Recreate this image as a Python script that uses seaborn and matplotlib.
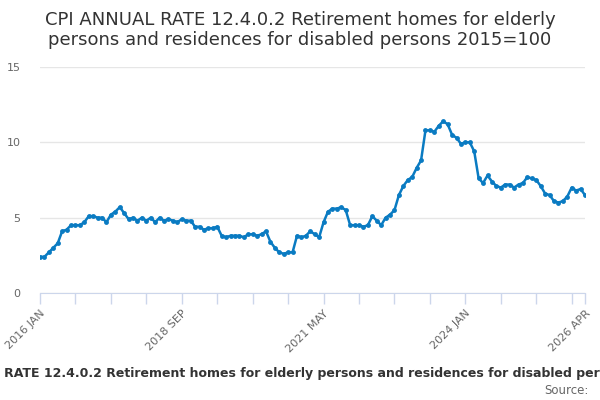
import numpy as np
import pandas as pd
import matplotlib
matplotlib.use("Agg")
import matplotlib.pyplot as plt
import seaborn as sns

# Monthly annual rate, 2016 JAN .. 2026 APR
rate_2016 = [2.4, 2.4, 2.7, 3.0, 3.3, 4.1, 4.2, 4.5, 4.5, 4.5, 4.7, 5.1]
rate_2017 = [5.1, 5.0, 5.0, 4.7, 5.2, 5.4, 5.7, 5.3, 4.9, 5.0, 4.8, 5.0]
rate_2018 = [4.8, 5.0, 4.7, 5.0, 4.8, 4.9, 4.8, 4.7, 4.9, 4.8, 4.8, 4.4]
rate_2019 = [4.4, 4.2, 4.3, 4.3, 4.4, 3.8, 3.7, 3.8, 3.8, 3.8, 3.7, 3.9]
rate_2020 = [3.9, 3.8, 3.9, 4.1, 3.4, 3.0, 2.7, 2.6, 2.7, 2.7, 3.8, 3.7]
rate_2021 = [3.8, 4.1, 3.9, 3.7, 4.7, 5.4, 5.6, 5.6, 5.7, 5.5, 4.5, 4.5]
rate_2022 = [4.5, 4.4, 4.5, 5.1, 4.8, 4.5, 5.0, 5.2, 5.5, 6.5, 7.1, 7.5]
rate_2023 = [7.7, 8.3, 8.8, 10.8, 10.8, 10.7, 11.1, 11.4, 11.2, 10.5, 10.3, 9.9]
rate_2024 = [10.0, 10.0, 9.4, 7.6, 7.3, 7.8, 7.4, 7.1, 7.0, 7.2, 7.2, 7.0]
rate_2025 = [7.2, 7.3, 7.7, 7.6, 7.5, 7.1, 6.6, 6.5, 6.1, 6.0, 6.1, 6.4]
rate_2026 = [7.0, 6.8, 6.9, 6.5]

values = (rate_2016 + rate_2017 + rate_2018 + rate_2019 + rate_2020 + rate_2021
          + rate_2022 + rate_2023 + rate_2024 + rate_2025 + rate_2026)
months = pd.date_range("2016-01-01", periods=len(values), freq="MS")
month_labels = [d.strftime("%Y %b").upper() for d in months]

df = pd.DataFrame({"idx": np.arange(len(values)), "rate": values})

title = ("CPI ANNUAL RATE 12.4.0.2 Retirement homes for elderly\n"
         "persons and residences for disabled persons 2015=100")
subtitle = ("CPI ANNUAL RATE 12.4.0.2 Retirement homes for elderly persons "
            "and residences for disabled persons 2015=100")

sns.set_style("white")
plt.rcParams["font.family"] = ["DejaVu Sans"]

fig = plt.figure(figsize=(6, 4), dpi=100)
ax = fig.add_axes([40 / 600, 1 - 293 / 400, 545 / 600, 226 / 400])

sns.lineplot(data=df, x="idx", y="rate", ax=ax, color="#0a7bc2", linewidth=1.8,
             marker="o", markersize=3.5, markeredgewidth=0)

ax.set_xlim(0, len(values) - 1)
ax.set_ylim(0, 15)
ax.set_yticks([0, 5, 10, 15])
ax.yaxis.grid(True, color="#e6e6e6", linewidth=1)
ax.set_axisbelow(True)

# minor ticks every 8 months, labels every 32 months plus the last month
tick_pos = list(range(0, len(values), 8)) + [len(values) - 1]
ax.set_xticks(tick_pos)
ax.set_xticklabels([month_labels[i] if (i % 32 == 0 or i == len(values) - 1) else ""
                    for i in tick_pos], rotation=45, ha="right",
                   rotation_mode="anchor", color="#666666", fontsize=8)
ax.tick_params(axis="x", length=8, width=1, color="#ccd6eb", pad=3, direction="out",
               bottom=True)
ax.tick_params(axis="y", length=0, labelsize=8, labelcolor="#666666", pad=14)

for s in ["top", "right", "left"]:
    ax.spines[s].set_visible(False)
ax.spines["bottom"].set_color("#ccd6eb")
ax.set_xlabel("")
ax.set_ylabel("")

fig.text(0.5, 1 - 30 / 400, title, ha="center", va="center", fontsize=13,
         color="#333333", linespacing=1.15)
# the reference shows this caption overflowing the figure on both sides
fig.text(312 / 600, 1 - 374 / 400, subtitle, ha="center", va="center", fontsize=9,
         fontweight="bold", color="#333333")
fig.text(589 / 600, 1 - 391 / 400, "Source:", ha="right", va="center", fontsize=8.5,
         color="#666666")

fig.savefig("out.png", dpi=100)
